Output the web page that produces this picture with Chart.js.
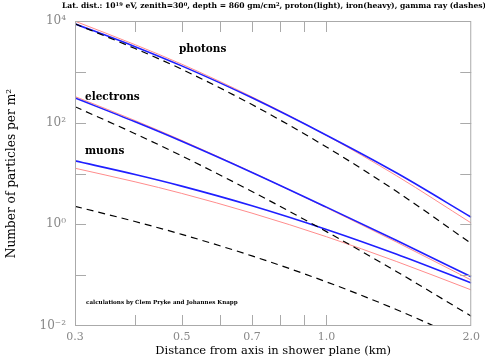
<!DOCTYPE html>
<html>
<head>
<meta charset="utf-8">
<script src="https://cdn.jsdelivr.net/npm/chart.js@4.4.1/dist/chart.umd.min.js"></script>
<style>
  body { margin: 0; background: #fff; }
  canvas { display: block; }
</style>
</head>
<body>
<canvas id="ldfChart" width="485" height="359"></canvas>
<script>
// distance from shower axis (km)
const distances = [0.3, 0.4, 0.5, 0.7, 1.0, 1.4, 2.0];

// particles per m^2, proton (light), iron (heavy), gamma ray (dashes)
const photonProton   = [9910, 3420, 1416, 322, 56.1, 8.97, 1.06];
const photonIron     = [8810, 3126, 1309, 308, 56.6, 10.2, 1.38];
const photonGamma    = [8810, 2871, 1125, 227, 33.2, 4.41, 0.419];
const electronProton = [327, 110, 44.9, 10.6, 2.12, 0.445, 0.080];
const electronIron   = [306, 104, 43.1, 10.5, 2.18, 0.48, 0.093];
const electronGamma  = [206, 60.7, 22.2, 4.43, 0.718, 0.117, 0.0156];
const muonProton     = [12.7, 6.86, 4.06, 1.66, 0.57, 0.185, 0.0512];
const muonIron       = [17.7, 9.55, 5.65, 2.32, 0.794, 0.258, 0.0702];
const muonGamma      = [2.26, 1.135, 0.635, 0.239, 0.0738, 0.0209, 0.00467];

const xTickLabels = [0.3, 0.5, 0.7, 1.0, 2.0];
const xMinorTicks = [0.4, 0.5, 0.6, 0.7, 0.8, 0.9, 1.0];
const yTickLabels = [1e-2, 1e0, 1e2, 1e4];
const yDecades = [1e-1, 1e0, 1e1, 1e2, 1e3];
const supers = { '-': '\u207B', '0': '\u2070', '1': '\u00B9', '2': '\u00B2', '3': '\u00B3', '4': '\u2074' };

const blue = '#1f1fff';
const pink = '#ff8c8c';

function pts(arr) {
    return distances.map((d, i) => ({ x: d, y: arr[i] }));
}

function gammaSet(arr) {
    return { data: pts(arr), borderColor: '#000', borderWidth: 1.2, borderDash: [7, 5] };
}
function ironSet(arr) {
    return { data: pts(arr), borderColor: blue, borderWidth: 1.6 };
}
function protonSet(arr) {
    return { data: pts(arr), borderColor: pink, borderWidth: 1 };
}

// frame, inner tick marks and text labels
const decor = {
    id: 'decor',
    afterDraw(chart) {
        const c = chart.ctx;
        const a = chart.chartArea;
        const xs = chart.scales.x, ys = chart.scales.y;
        c.save();
        c.strokeStyle = '#aaa';
        c.lineWidth = 1;
        c.strokeRect(a.left + 0.5, a.top + 0.5, a.right - a.left - 1, a.bottom - a.top - 1);
        c.beginPath();
        xMinorTicks.forEach(v => {
            const px = Math.round(xs.getPixelForValue(v)) + 0.5;
            c.moveTo(px, a.top); c.lineTo(px, a.top + 11);
            c.moveTo(px, a.bottom); c.lineTo(px, a.bottom - 11);
        });
        yDecades.forEach(v => {
            const py = Math.round(ys.getPixelForValue(v)) + 0.5;
            c.moveTo(a.left, py); c.lineTo(a.left + 11, py);
            c.moveTo(a.right, py); c.lineTo(a.right - 11, py);
        });
        c.stroke();

        c.fillStyle = '#000';
        c.textBaseline = 'middle';
        c.font = 'bold 10.5px "DejaVu Serif"';
        c.fillText('photons', 179, 49);
        c.fillText('electrons', 85, 97);
        c.fillText('muons', 85, 151);
        c.font = 'bold 5.6px "DejaVu Serif"';
        c.fillText('calculations by Clem Pryke and Johannes Knapp', 86, 303);

        // title with superscripts
        const parts = [
            ['Lat. dist.: 10', false], ['19', true], [' eV, zenith=30', false], ['0', true],
            [', depth = 860 gm/cm', false], ['2', true],
            [', proton(light), iron(heavy), gamma ray (dashes)', false]
        ];
        const big = 'bold 7.6px "DejaVu Serif"', small = 'bold 5.2px "DejaVu Serif"';
        let w = 0;
        parts.forEach(p => { c.font = p[1] ? small : big; w += c.measureText(p[0]).width; });
        let x = 274 - w / 2;
        c.textBaseline = 'alphabetic';
        parts.forEach(p => {
            c.font = p[1] ? small : big;
            c.fillText(p[0], x, p[1] ? 5.5 : 8);
            x += c.measureText(p[0]).width;
        });
        c.restore();
    }
};

new Chart(document.getElementById('ldfChart'), {
    type: 'line',
    data: {
        datasets: [
            gammaSet(photonGamma), gammaSet(electronGamma), gammaSet(muonGamma),
            ironSet(photonIron), ironSet(electronIron), ironSet(muonIron),
            protonSet(photonProton), protonSet(electronProton), protonSet(muonProton)
        ]
    },
    options: {
        responsive: false,
        animation: false,
        devicePixelRatio: 1,
        layout: { padding: { left: 0, top: 21, right: 9, bottom: 0 } },
        elements: {
            point: { radius: 0 },
            line: { cubicInterpolationMode: 'monotone', fill: false }
        },
        plugins: { legend: { display: false }, tooltip: { enabled: false } },
        scales: {
            x: {
                type: 'logarithmic',
                min: 0.3,
                max: 2.0,
                grid: { display: false, drawTicks: false },
                border: { display: false },
                afterBuildTicks: s => { s.ticks = xTickLabels.map(v => ({ value: v })); },
                afterFit: s => { s.height = 33; },
                ticks: {
                    autoSkip: false, maxRotation: 0, padding: 5, color: '#888',
                    font: { family: 'DejaVu Serif', size: 11 },
                    callback: v => Number(v).toFixed(1)
                },
                title: {
                    display: true, text: 'Distance from axis in shower plane (km)', color: '#000',
                    font: { family: 'DejaVu Serif', size: 11.5 }, padding: { top: 0, bottom: 1 }
                }
            },
            y: {
                type: 'logarithmic',
                min: 0.01,
                max: 10000,
                grid: { display: false, drawTicks: false },
                border: { display: false },
                afterBuildTicks: s => { s.ticks = yTickLabels.map(v => ({ value: v })); },
                afterFit: s => { s.width = 75; },
                ticks: {
                    autoSkip: false, padding: 9, color: '#888',
                    font: { family: 'DejaVu Serif', size: 12 },
                    callback: v => '10' + String(Math.round(Math.log10(v))).split('').map(ch => supers[ch]).join('')
                },
                title: {
                    display: true, text: 'Number of particles per m\u00B2', color: '#000',
                    font: { family: 'DejaVu Serif', size: 12.2 }, padding: { top: 5, bottom: 0 }
                }
            }
        }
    },
    plugins: [decor]
});
</script>
</body>
</html>
